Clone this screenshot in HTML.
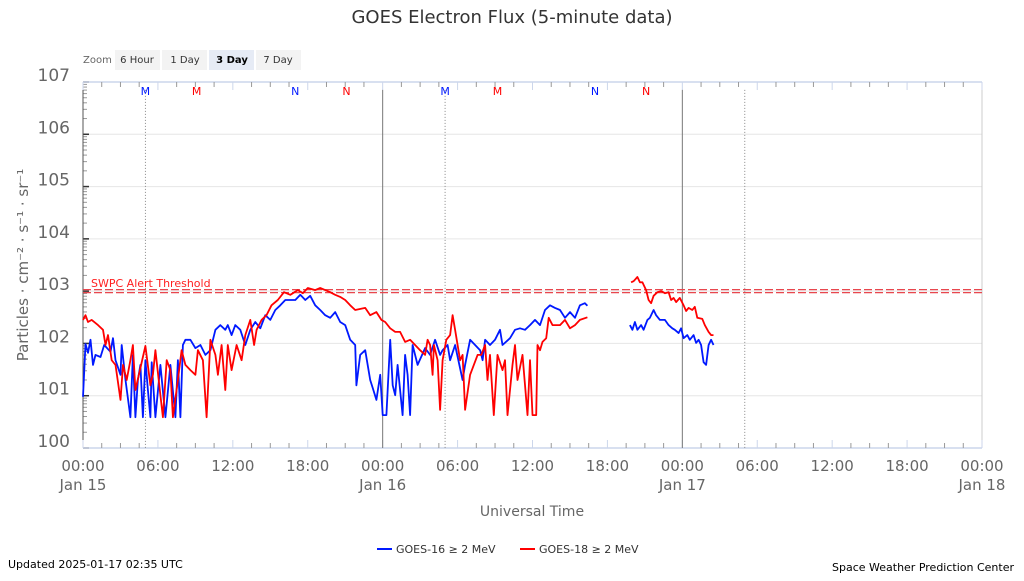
<!DOCTYPE html>
<html><head><meta charset="utf-8">
<style>
html,body{margin:0;padding:0;background:#fff;}
body{width:1024px;height:576px;overflow:hidden;font-family:"Liberation Sans","DejaVu Sans",sans-serif;}
svg text{font-family:"DejaVu Sans","Liberation Sans",sans-serif;}
</style></head>
<body>
<svg id="chart" width="1024" height="576" viewBox="0 0 1024 576" xmlns="http://www.w3.org/2000/svg">
<text x="512" y="23" text-anchor="middle" font-size="18" fill="#333">GOES Electron Flux (5-minute data)</text>
<g>
<text x="83" y="63" font-size="10" fill="#666">Zoom</text>
<rect x="115" y="50" width="45" height="20" fill="#f3f3f3"/>
<text x="137" y="63" font-size="10" fill="#333" text-anchor="middle">6 Hour</text>
<rect x="162" y="50" width="45" height="20" fill="#f3f3f3"/>
<text x="185" y="63" font-size="10" fill="#333" text-anchor="middle">1 Day</text>
<rect x="209" y="50" width="45" height="20" fill="#e6ebf5"/>
<text x="232" y="63" font-size="10" fill="#000" font-weight="bold" text-anchor="middle">3 Day</text>
<rect x="256" y="50" width="45" height="20" fill="#f3f3f3"/>
<text x="278" y="63" font-size="10" fill="#333" text-anchor="middle">7 Day</text>
</g>
<g id="plot"></g>
<text transform="translate(28,265) rotate(-90)" text-anchor="middle" font-size="15" fill="#666">Particles · cm⁻² · s⁻¹ · sr⁻¹</text>
<text x="532" y="516" text-anchor="middle" font-size="14" fill="#666">Universal Time</text>
<g>
<g>
<line x1="377" y1="549" x2="392" y2="549" stroke="#0019ff" stroke-width="2"/>
<text x="396" y="553" font-size="11" fill="#333">GOES-16 ≥ 2 MeV</text></g>
<g>
<line x1="520" y1="549" x2="535" y2="549" stroke="#ff0000" stroke-width="2"/>
<text x="539" y="553" font-size="11" fill="#333">GOES-18 ≥ 2 MeV</text></g>
</g>
<text x="8" y="568" font-size="11" fill="#000">Updated 2025-01-17 02:35 UTC</text>
<text x="1014" y="571" text-anchor="end" font-size="11" fill="#000">Space Weather Prediction Center</text>
</svg>
<script>
const yTickExps=[0,1,2,3,4,5,6,7];
const xTickHours=[0,6,12,18,24,30,36,42,48,54,60,66,72];
const xTickLabels=["00:00","06:00","12:00","18:00","00:00","06:00","12:00","18:00","00:00","06:00","12:00","18:00","00:00"];
const xDateLabels={0:"Jan 15",24:"Jan 16",48:"Jan 17",72:"Jan 18"};
const thresholdFlux=1000;
const markerHours=[5,9.1,17,21.1,29,33.2,41,45.1];
const markerLetters=["M","M","N","N","M","M","N","N"];
const markerSeries=[16,18,16,18,16,18,16,18];
const noonLineHours=[5,29,53];
const dayLineHours=[24,48];
const g16Seg1T=[0,0.2,0.4,0.6,0.8,1.0,1.4,1.7,2.2,2.4,2.6,3.0,3.1,3.4,3.8,4.0,4.2,4.4,4.6,4.8,5.0,5.2,5.4,5.5,5.8,6.2,6.6,7.0,7.4,7.6,7.8,8.0,8.2,8.6,9.0,9.4,9.8,10.2,10.6,11.0,11.4,11.6,11.9,12.2,12.6,13.0,13.4,13.8,14.2,14.6,15.0,15.4,15.8,16.2,17.0,17.4,17.8,18.2,18.6,19.0,19.4,19.8,20.2,20.6,21.0,21.4,21.8,21.9,22.2,22.6,23.0,23.2,23.5,23.8,24.0,24.3,24.6,24.8,25.0,25.2,25.6,25.8,26.0,26.2,26.4,26.8,27.4,27.8,28.2,28.6,28.8,29.2,29.4,29.8,30.4,30.6,31.0,31.4,31.8,32.0,32.2,32.6,33.0,33.4,33.6,34.2,34.6,35.0,35.4,35.8,36.2,36.6,37.0,37.4,37.8,38.2,38.6,39.0,39.4,39.8,40.2,40.4];
const g16Seg1V=[0.98,1.99,1.82,2.07,1.59,1.78,1.74,1.97,1.84,2.10,1.68,1.40,1.97,1.30,0.59,1.78,0.59,1.30,1.59,0.59,1.68,1.11,0.59,1.64,0.59,1.59,0.59,1.59,0.59,1.68,0.59,1.97,2.07,2.07,1.91,1.97,1.78,1.87,2.26,2.35,2.26,2.35,2.16,2.35,2.26,1.97,2.26,2.41,2.29,2.54,2.45,2.64,2.73,2.83,2.83,2.93,2.83,2.91,2.73,2.64,2.54,2.49,2.60,2.41,2.35,2.07,1.97,1.20,1.78,1.87,1.30,1.15,0.92,1.40,0.63,0.63,2.07,1.20,1.01,1.59,0.63,1.78,1.40,0.63,1.97,1.59,1.91,1.78,2.07,1.78,1.87,1.97,1.68,1.97,1.30,1.59,2.07,1.97,1.87,1.68,2.07,1.97,2.07,2.26,1.97,2.10,2.26,2.29,2.26,2.35,2.45,2.35,2.64,2.73,2.68,2.64,2.49,2.60,2.49,2.73,2.77,2.72];
const g16Seg2T=[43.8,44.0,44.2,44.4,44.7,44.9,45.2,45.4,45.7,45.9,46.2,46.6,46.9,47.2,47.4,47.7,47.9,48.1,48.4,48.6,48.9,49.1,49.3,49.5,49.7,49.9,50.1,50.3,50.5];
const g16Seg2V=[2.35,2.26,2.41,2.26,2.35,2.26,2.45,2.49,2.64,2.54,2.45,2.45,2.35,2.29,2.26,2.20,2.29,2.10,2.16,2.07,2.16,2.01,2.07,1.97,1.64,1.59,1.97,2.07,1.97];
const g18Seg1T=[0,0.2,0.4,0.7,1.2,1.6,1.8,2.0,2.3,2.6,3.0,3.2,3.5,3.8,4.0,4.2,4.6,5.0,5.4,5.6,5.8,6.2,6.4,6.7,7.0,7.2,7.6,7.9,8.2,8.6,9.0,9.2,9.6,9.9,10.2,10.6,10.8,11.1,11.4,11.6,11.9,12.3,12.7,13.0,13.4,13.7,13.9,14.3,14.7,15.1,15.6,16.1,16.6,17.2,17.6,18.0,18.6,19.0,19.4,19.8,20.2,20.6,21.0,21.4,21.8,22.6,23.0,23.5,23.9,24.2,24.6,25.0,25.4,25.8,26.2,26.6,27.0,27.4,27.6,27.8,28.0,28.1,28.4,28.6,28.8,29.1,29.4,29.6,29.8,30.2,30.4,30.6,31.0,31.6,31.9,32.2,32.4,32.6,32.9,33.2,33.6,33.8,34.0,34.4,34.6,34.8,35.2,35.6,35.8,36.0,36.3,36.4,36.6,36.8,37.1,37.3,37.6,37.9,38.2,38.6,39.0,39.4,39.8,40.4];
const g18Seg1V=[2.45,2.54,2.41,2.45,2.35,2.26,1.97,2.16,1.68,1.59,0.92,1.59,1.30,1.68,1.97,1.11,1.53,1.95,1.20,1.40,1.87,1.01,0.59,1.68,1.49,0.59,1.30,1.87,1.59,1.49,1.40,1.87,1.68,0.59,2.07,1.78,1.40,1.97,1.11,1.97,1.49,1.97,1.68,2.16,2.45,1.97,2.26,2.45,2.54,2.73,2.83,2.98,2.93,3.02,2.96,3.06,3.02,3.06,3.02,2.98,2.93,2.89,2.83,2.73,2.64,2.68,2.54,2.60,2.45,2.41,2.29,2.22,2.22,2.03,2.07,1.97,1.87,1.78,2.07,1.97,1.40,1.97,1.68,0.73,1.68,2.07,2.16,2.54,2.26,1.68,1.78,0.73,1.40,1.78,1.78,1.97,1.30,1.78,0.63,1.78,1.49,1.68,0.63,1.59,1.97,1.30,1.78,0.63,1.68,0.63,0.63,1.97,1.87,2.03,2.10,2.49,2.35,2.35,2.35,2.45,2.29,2.35,2.45,2.50];
const g18Seg2T=[43.9,44.1,44.4,44.6,44.8,45.1,45.3,45.5,45.7,46.0,46.3,46.6,46.9,47.1,47.3,47.5,47.8,48.1,48.3,48.5,48.8,49.0,49.2,49.6,49.8,50.1,50.3,50.5];
const g18Seg2V=[3.17,3.19,3.27,3.17,3.17,3.02,2.83,2.77,2.91,2.98,3.00,2.96,2.98,2.83,2.87,2.79,2.87,2.73,2.62,2.68,2.64,2.70,2.49,2.47,2.35,2.22,2.16,2.16];

const NS="http://www.w3.org/2000/svg";
const X0=83,X1=982,Y0=448,Y1=82;
function xs(h){return X0+(X1-X0)*h/72;}
function ys(l){return Y0-(Y0-Y1)*l/7;}
const plot=document.getElementById('plot');
function mk(tag,attrs,parent){const e=document.createElementNS(NS,tag);for(const k in attrs)e.setAttribute(k,attrs[k]);(parent||plot).appendChild(e);return e;}

yTickExps.forEach(function(e){
  const gl=mk('line',{x1:X0,x2:X1,y1:ys(e),y2:ys(e),stroke:'#e6e6e6','stroke-width':1});
  
  
  const t=mk('text',{x:70,y:ys(e)-1,'text-anchor':'end','font-size':17,fill:'#666'});
  t.textContent='10'+e;
  
  
  if(e<7){for(let m=2;m<=9;m++){const yy=ys(e+Math.log10(m));mk('line',{x1:X0,x2:X0+4,y1:yy,y2:yy,stroke:'#999','stroke-width':1});}}
  mk('line',{x1:X0,x2:X0+6,y1:ys(e),y2:ys(e),stroke:'#333','stroke-width':1.5});
});
mk('line',{x1:X0,x2:X1,y1:Y1,y2:Y1,stroke:'#ccd6eb','stroke-width':1.5});
mk('line',{x1:X0,x2:X1,y1:Y0,y2:Y0,stroke:'#ccd6eb','stroke-width':1.5});
mk('line',{x1:X1,x2:X1,y1:Y1,y2:Y0,stroke:'#ccc','stroke-width':1});
mk('line',{x1:X0,x2:X0,y1:Y1,y2:Y0,stroke:'#555','stroke-width':1});
for(let h=0;h<=72;h+=1.5){const x=xs(h);const major=(h%6===0);
  mk('line',{x1:x,x2:x,y1:Y0,y2:Y0-(major?8:5),stroke:major?'#ccd6eb':'#999','stroke-width':1});
  mk('line',{x1:x,x2:x,y1:Y1,y2:Y1+(major?8:5),stroke:major?'#ccd6eb':'#999','stroke-width':1});}
xTickHours.forEach(function(h,i){
  const t=mk('text',{x:xs(h),y:471,'text-anchor':'middle','font-size':15,fill:'#666'});
  t.textContent=xTickLabels[i];
  
  
  if(xDateLabels[h]){const d=mk('text',{x:xs(h),y:490,'text-anchor':'middle','font-size':15,fill:'#666'});d.textContent=xDateLabels[h];
  
  }
});
dayLineHours.forEach(function(h){const l=mk('line',{x1:xs(h),x2:xs(h),y1:ys(6.85),y2:Y0,stroke:'#777','stroke-width':1});
  
  });
noonLineHours.forEach(function(h){const l=mk('line',{x1:xs(h),x2:xs(h),y1:ys(6.85),y2:Y0,stroke:'#888','stroke-width':1,'stroke-dasharray':'1,2'});
  
  });
markerHours.forEach(function(h,i){const t=mk('text',{x:xs(h),y:95,'text-anchor':'middle','font-size':11,fill:markerSeries[i]===16?'#0019ff':'#ff0000'});
  t.textContent=markerLetters[i];
  
  });
const ty=ys(Math.log10(thresholdFlux));
[ty-1.5,ty+1.5].forEach(function(y){const l=mk('line',{x1:X0,x2:X1,y1:y,y2:y,stroke:'#e8474e','stroke-width':1.3,'stroke-dasharray':'8,3'});
  
  });
const tl=mk('text',{x:91,y:ty-4,'font-size':11,fill:'#ff2020'});
tl.textContent='SWPC Alert Threshold';


function series(T,V,color,name){
  const d=T.map(function(t,i){return (i?'L':'M')+xs(t).toFixed(1)+','+ys(V[i]).toFixed(1);}).join('');
  const p=mk('path',{d:d,fill:'none',stroke:color,'stroke-width':1.8,'stroke-linejoin':'round'});
  
  
}
series(g16Seg1T,g16Seg1V,'#0019ff','goes16-line');
series(g16Seg2T,g16Seg2V,'#0019ff','goes16-line');
series(g18Seg1T,g18Seg1V,'#ff0000','goes18-line');
series(g18Seg2T,g18Seg2V,'#ff0000','goes18-line');
</script>
</body></html>
